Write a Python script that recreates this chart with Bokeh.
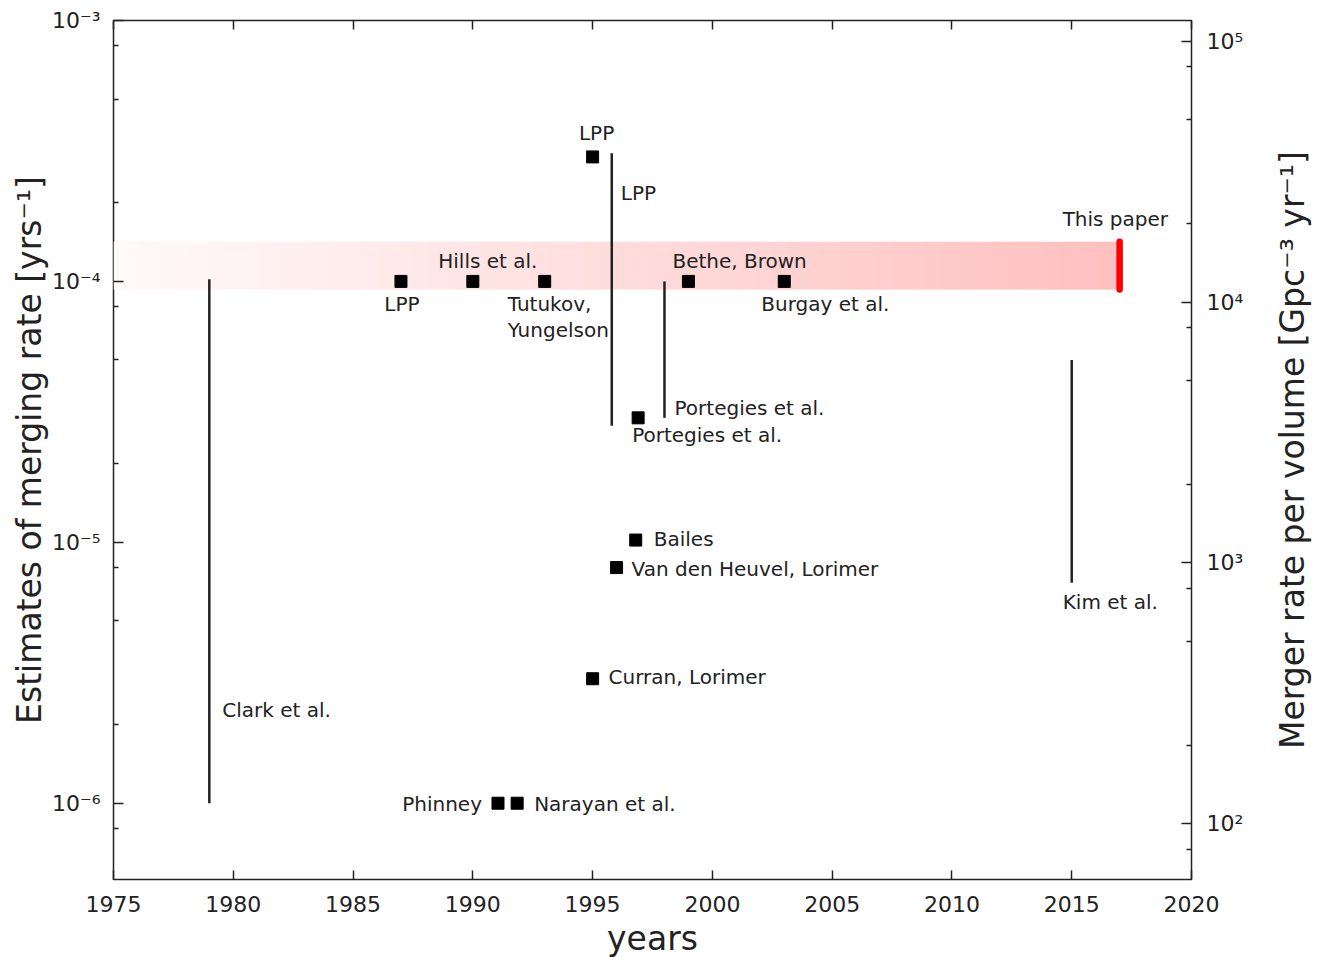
import math
import numpy as np
from bokeh.plotting import figure
from bokeh.layouts import row
from bokeh.models import (Range1d, LogScale, LogAxis, LinearAxis, FixedTicker,
                          CustomJSTickFormatter)
from bokeh.core.properties import value
from bokeh.embed import file_html
from bokeh.resources import INLINE

# ---------------- data ----------------
x_ticks = [1975, 1980, 1985, 1990, 1995, 2000, 2005, 2010, 2015, 2020]
rate_decades = [1e-6, 1e-5, 1e-4, 1e-3]          # left axis, yr^-1
volume_decades = [1e2, 1e3, 1e4, 1e5]            # right axis, Gpc^-3 yr^-1
conversion = 1.2e8                               # right / left
rate_min, rate_max = 5.1e-7, 1e-3

point_years = [1987, 1990, 1993, 1995, 1996.9, 1999, 2003, 1996.8, 1996, 1995, 1991.05, 1991.85]
point_rates = [1e-4, 1e-4, 1e-4, 3e-4, 3e-5, 1e-4, 1e-4, 1.02e-5, 8e-6, 3e-6, 1e-6, 1e-6]
point_labels = ["LPP", "Hills et al.", "Tutukov,\nYungelson", "LPP", "Portegies et al.",
                "Bethe, Brown", "Burgay et al.", "Bailes", "Van den Heuvel, Lorimer",
                "Curran, Lorimer", "Phinney", "Narayan et al."]

range_years = [1979, 1995.8, 1998, 2015]
range_low = [1e-6, 2.8e-5, 3e-5, 7e-6]
range_high = [1.02e-4, 3.1e-4, 1e-4, 5e-5]
range_labels = ["Clark et al.", "LPP", "Portegies et al.", "Kim et al."]

this_paper_year = 2017
this_paper_low = 0.93e-4
this_paper_high = 1.42e-4
this_paper_label = "This paper"

left_title = "Estimates of merging rate [yrs\u207B\u00B9]"
right_title = "Merger rate per volume [Gpc\u207B\u00B3 yr\u207B\u00B9]"
bottom_title = "years"

# ---------------- label placement (pixels, screen y downwards) ----------------
point_label_style = [(1, 23, "center"), (15, -20, "center"), (-37, 23, "left"), (4, -24, "center"),
                     (-6, 17, "left"), (-16, -20, "left"), (-23, 23, "left"), (18, -1, "left"),
                     (15, 1, "left"), (16, -2, "left"), (-16, 1, "right"), (17, 1, "left")]
# (anchor end, dx, dy, align)
range_label_style = [("low", 13, -93, "left"), ("high", 9, 40, "left"),
                     ("low", 10, -10, "left"), ("low", -9, 19, "left")]
this_paper_style = (-57, -23, "left")

FONT = "DejaVu Sans"
INK = "#222222"
LINE_SPACING = 26
FRAME_W, FRAME_H = 1078, 859
TOP = 20

p = figure(frame_width=FRAME_W, frame_height=FRAME_H,
           x_range=Range1d(x_ticks[0], x_ticks[-1]),
           y_range=Range1d(rate_min, rate_max), y_axis_type="log",
           output_backend="svg", toolbar_location=None,
           min_border_left=113, min_border_top=TOP, min_border_right=71, min_border_bottom=70,
           background_fill_color="white", border_fill_color="white")
p.xgrid.grid_line_color = None
p.ygrid.grid_line_color = None
p.outline_line_color = INK
p.outline_line_width = 1.5

p.extra_y_ranges = {"vol": Range1d(rate_min * conversion, rate_max * conversion)}
p.extra_y_scales = {"vol": LogScale()}

sup_code = """
const sup = {"-":"\u207B","0":"\u2070","1":"\u00B9","2":"\u00B2","3":"\u00B3","4":"\u2074",
             "5":"\u2075","6":"\u2076","7":"\u2077","8":"\u2078","9":"\u2079"};
const e = Math.round(Math.log10(tick));
return "10" + String(e).split("").map(c => sup[c]).join("");
"""

def minor_list(decades):
    out = []
    for d in [decades[0] / 10] + list(decades):
        for m in (2, 5, 8):
            out.append(d * m)
    return out

def style_axis(ax, tick_len=10):
    ax.axis_line_color = None
    ax.major_tick_in = tick_len
    ax.major_tick_out = 0
    ax.minor_tick_in = 5
    ax.minor_tick_out = 0
    ax.major_tick_line_color = INK
    ax.minor_tick_line_color = INK
    ax.major_tick_line_width = 1.5
    ax.minor_tick_line_width = 1.5
    ax.major_label_text_font = FONT
    ax.major_label_text_font_size = "22px"
    ax.major_label_text_color = INK
    ax.axis_label_text_font = FONT
    ax.axis_label_text_font_size = "33px"
    ax.axis_label_text_font_style = "normal"
    ax.axis_label_text_color = INK

# left axis
lax = p.yaxis[0]
lax.ticker = FixedTicker(ticks=rate_decades, minor_ticks=minor_list(rate_decades))
lax.formatter = CustomJSTickFormatter(code=sup_code)
style_axis(lax)
lax.major_label_standoff = 13
lax.axis_label = left_title
lax.axis_label_standoff = 0

# bottom axis
bax = p.xaxis[0]
bax.ticker = FixedTicker(ticks=x_ticks, minor_ticks=[])
style_axis(bax, 9)
bax.major_label_standoff = 16
bax.axis_label = bottom_title
bax.axis_label_standoff = 4

# right axis
rax = LogAxis(y_range_name="vol",
              ticker=FixedTicker(ticks=volume_decades, minor_ticks=minor_list(volume_decades)),
              formatter=CustomJSTickFormatter(code=sup_code))
style_axis(rax)
rax.major_label_standoff = 15
p.add_layout(rax, "right")

# top axis (ticks only)
tax = LinearAxis(ticker=FixedTicker(ticks=x_ticks, minor_ticks=[]),
                 formatter=CustomJSTickFormatter(code="return ''"))
style_axis(tax, 9)
tax.major_label_text_font_size = "1px"
tax.major_label_standoff = 0
p.add_layout(tax, "above")

# gradient band (style: white -> pink)
ncol = 512
t = np.linspace(0.0, 1.0, ncol)
alpha = 0.02 + 0.23 * t
img = np.empty((1, ncol), dtype=np.uint32)
view = img.view(dtype=np.uint8).reshape((1, ncol, 4))
view[0, :, 0] = 255
view[0, :, 1] = np.round(255 * (1 - alpha)).astype(np.uint8)
view[0, :, 2] = np.round(255 * (1 - alpha)).astype(np.uint8)
view[0, :, 3] = 255
p.image_rgba(image=[img], x=x_ticks[0], y=this_paper_low,
             dw=this_paper_year - x_ticks[0], dh=this_paper_high - this_paper_low)

# this paper bar
p.segment(x0=[this_paper_year], y0=[this_paper_low], x1=[this_paper_year], y1=[this_paper_high],
          line_width=6.5, line_color="#ff0000", line_cap="round")

# range estimates
p.segment(x0=range_years, y0=range_low, x1=range_years, y1=range_high,
          line_width=2.5, line_color=INK)

# point estimates
p.scatter(point_years, point_rates, marker="square", size=12, color="black")

def put_text(x, y, txt, dx, dy, align):
    for i, line in enumerate(txt.split("\n")):
        p.text(x=[x], y=[y], text=[line], x_offset=dx, y_offset=dy + i * LINE_SPACING,
               text_align=align, text_baseline="middle",
               text_font=value(FONT), text_font_size="20px", text_color=INK)

for x, y, txt, (dx, dy, al) in zip(point_years, point_rates, point_labels, point_label_style):
    put_text(x, y, txt, dx, dy, al)

for x, lo, hi, txt, (end, dx, dy, al) in zip(range_years, range_low, range_high, range_labels,
                                             range_label_style):
    put_text(x, lo if end == "low" else hi, txt, dx, dy, al)

put_text(this_paper_year, this_paper_high, this_paper_label, *this_paper_style)

# right-hand title, reading bottom-to-top, in a narrow companion panel
q = figure(frame_width=60, frame_height=FRAME_H, x_range=Range1d(0, 1), y_range=Range1d(0, 1),
           output_backend="svg", toolbar_location=None,
           x_axis_location=None, y_axis_location=None,
           min_border_left=0, min_border_right=0, min_border_top=TOP, min_border_bottom=0,
           background_fill_color="white", border_fill_color="white")
q.outline_line_color = None
q.xgrid.grid_line_color = None
q.ygrid.grid_line_color = None
q.text(x=[0.5], y=[0.5], text=[right_title], angle=math.pi / 2,
       text_align="center", text_baseline="middle",
       text_font=value(FONT), text_font_size="33px", text_color=INK)

layout = row(p, q)
open("out.html", "w").write(file_html(layout, INLINE))
